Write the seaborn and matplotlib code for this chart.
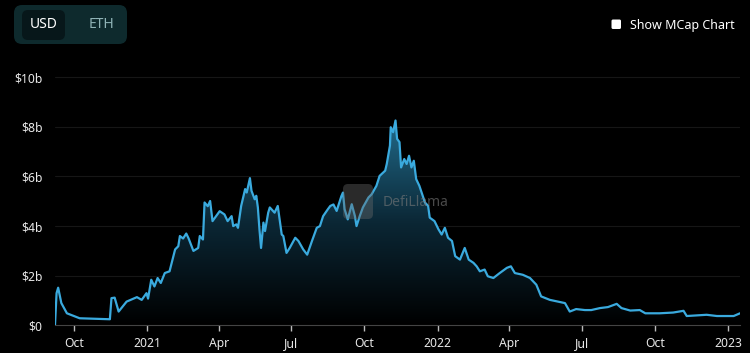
import matplotlib
matplotlib.use('Agg')
import matplotlib.pyplot as plt
import matplotlib.dates as mdates
import numpy as np
import pandas as pd
import seaborn as sns
from matplotlib.colors import LinearSegmentedColormap
from matplotlib.patches import FancyBboxPatch


# TVL in billions of USD
DATES = ['2020-09-07', '2020-09-09', '2020-09-11', '2020-09-15', '2020-09-22', '2020-10-08',
         '2020-10-27', '2020-11-15', '2020-11-17', '2020-11-21', '2020-11-26', '2020-12-06',
         '2020-12-19', '2020-12-25', '2020-12-31', '2021-01-02', '2021-01-06', '2021-01-10',
         '2021-01-14', '2021-01-18', '2021-01-23', '2021-01-29', '2021-02-05', '2021-02-09',
         '2021-02-11', '2021-02-15', '2021-02-19', '2021-02-22', '2021-02-28', '2021-03-06',
         '2021-03-08', '2021-03-12', '2021-03-14', '2021-03-18', '2021-03-21', '2021-03-24',
         '2021-04-02', '2021-04-08', '2021-04-12', '2021-04-17', '2021-04-19', '2021-04-23',
         '2021-04-25', '2021-04-29', '2021-05-04', '2021-05-06', '2021-05-10', '2021-05-12',
         '2021-05-16', '2021-05-18', '2021-05-20', '2021-05-22', '2021-05-24', '2021-05-27',
         '2021-05-29', '2021-06-02', '2021-06-04', '2021-06-10', '2021-06-14', '2021-06-19',
         '2021-06-21', '2021-06-25', '2021-06-29', '2021-07-06', '2021-07-10', '2021-07-16',
         '2021-07-21', '2021-07-27', '2021-08-02', '2021-08-06', '2021-08-10', '2021-08-16',
         '2021-08-19', '2021-08-23', '2021-08-27', '2021-09-02', '2021-09-04', '2021-09-06',
         '2021-09-10', '2021-09-15', '2021-09-19', '2021-09-21', '2021-09-25', '2021-09-29',
         '2021-10-06', '2021-10-10', '2021-10-16', '2021-10-20', '2021-10-27', '2021-10-29',
         '2021-11-02', '2021-11-03', '2021-11-06', '2021-11-09', '2021-11-11', '2021-11-14',
         '2021-11-16', '2021-11-20', '2021-11-23', '2021-11-26', '2021-11-29', '2021-12-02',
         '2021-12-05', '2021-12-09', '2021-12-16', '2021-12-20', '2021-12-22', '2021-12-28',
         '2022-01-02', '2022-01-06', '2022-01-10', '2022-01-14', '2022-01-19', '2022-01-23',
         '2022-01-29', '2022-02-04', '2022-02-09', '2022-02-15', '2022-02-19', '2022-02-23',
         '2022-03-01', '2022-03-05', '2022-03-12', '2022-03-20', '2022-03-29', '2022-04-03',
         '2022-04-08', '2022-04-18', '2022-04-27', '2022-05-05', '2022-05-11', '2022-05-22',
         '2022-06-01', '2022-06-10', '2022-06-16', '2022-06-24', '2022-07-05', '2022-07-13',
         '2022-07-24', '2022-08-03', '2022-08-14', '2022-08-20', '2022-08-31', '2022-09-12',
         '2022-09-19', '2022-10-07', '2022-10-24', '2022-11-06', '2022-11-10', '2022-12-05',
         '2022-12-18', '2023-01-08', '2023-01-16']
TVL = [0.0, 1.3, 1.52, 0.9, 0.49, 0.29,
       0.27, 0.25, 1.1, 1.12, 0.56, 0.96,
       1.14, 1.03, 1.3, 1.08, 1.84, 1.57,
       1.91, 1.71, 2.11, 2.18, 3.06, 3.19,
       3.6, 3.5, 3.7, 3.5, 3.0, 3.12,
       3.6, 3.46, 4.95, 4.8, 5.01, 4.2,
       4.6, 4.47, 4.2, 4.4, 4.0, 4.07,
       3.93, 4.81, 5.49, 5.35, 5.93, 5.42,
       5.08, 5.22, 4.75, 3.87, 3.12, 4.14,
       3.8, 4.54, 4.75, 4.54, 4.81, 3.66,
       3.6, 2.92, 3.12, 3.53, 3.4, 3.06,
       2.85, 3.4, 3.93, 4.0, 4.4, 4.68,
       4.81, 4.87, 4.61, 5.21, 5.35, 4.68,
       4.27, 4.88, 4.4, 4.0, 4.4, 4.75,
       5.15, 5.28, 5.62, 6.02, 6.23, 6.5,
       7.24, 7.98, 7.78, 8.25, 7.51, 7.38,
       6.36, 6.7, 6.5, 6.83, 6.36, 6.63,
       5.89, 5.62, 4.95, 4.81, 4.34, 4.2,
       3.87, 3.66, 3.93, 3.53, 3.4, 2.79,
       2.65, 3.12, 2.65, 2.52, 2.38, 2.18,
       2.25, 1.98, 1.91, 2.11, 2.32, 2.38,
       2.11, 2.04, 1.91, 1.64, 1.17, 1.03,
       0.96, 0.9, 0.56, 0.66, 0.62, 0.62,
       0.70, 0.74, 0.87, 0.70, 0.6, 0.62,
       0.49, 0.49, 0.52, 0.59, 0.38, 0.43,
       0.38, 0.38, 0.49]

Y_TICKS = [0, 2, 4, 6, 8, 10]
Y_LABELS = ['$0', '$2b', '$4b', '$6b', '$8b', '$10b']
X_TICKS = ['2020-10-01', '2021-01-01', '2021-04-01', '2021-07-01', '2021-10-01',
           '2022-01-01', '2022-04-01', '2022-07-01', '2022-10-01', '2023-01-01']
X_LABELS = ['Oct', '2021', 'Apr', 'Jul', 'Oct', '2022', 'Apr', 'Jul', 'Oct', '2023']

LINE_COLOR = '#3aaade'
TEXT_COLOR = '#e8e8e8'

sns.set_style('dark', {'axes.facecolor': '#000000', 'figure.facecolor': '#000000'})
plt.rcParams['font.family'] = ['Noto Sans', 'DejaVu Sans']

df = pd.DataFrame({'date': pd.to_datetime(DATES), 'tvl': TVL})

fig = plt.figure(figsize=(7.5, 3.53), dpi=100)
ax = fig.add_axes([0.0733, 0.078, 0.9134, 0.739])

# gradient fill under the line
poly = ax.fill_between(df['date'], df['tvl'], 0, color='none', lw=0)
x0 = mdates.date2num(df['date'].iloc[0])
x1 = mdates.date2num(df['date'].iloc[-1])
cmap = LinearSegmentedColormap.from_list('fade', ['#000000', '#0b2735', '#216a8a'])
grad = np.linspace(0, 1, 256).reshape(-1, 1)
im = ax.imshow(grad, cmap=cmap, origin='lower', aspect='auto',
               extent=[x0, x1, 0, max(TVL)], zorder=1)
im.set_clip_path(poly.get_paths()[0], transform=ax.transData)

sns.lineplot(data=df, x='date', y='tvl', ax=ax, color=LINE_COLOR, lw=1.6, zorder=3)

ax.set_xlim(df['date'].iloc[0], df['date'].iloc[-1])
ax.set_ylim(0, 10.5)
ax.set_yticks(Y_TICKS)
ax.set_yticklabels(Y_LABELS)
ax.set_xticks(pd.to_datetime(X_TICKS))
ax.set_xticklabels(X_LABELS)
for lab in ax.get_xticklabels():
    if lab.get_text().isdigit():
        lab.set_fontweight('bold')

ax.set_xlabel('')
ax.set_ylabel('')
ax.tick_params(axis='y', length=0, pad=9, labelsize=8.8, labelcolor=TEXT_COLOR)
ax.tick_params(axis='x', length=4, width=1, color='#bbbbbb', direction='out', pad=4,
               labelsize=8.8, labelcolor=TEXT_COLOR, bottom=True)
ax.grid(axis='y', color='#161616', lw=0.8)
ax.grid(axis='x', visible=False)
for side in ['top', 'right', 'left']:
    ax.spines[side].set_visible(False)
ax.spines['bottom'].set_color('#444444')
ax.spines['bottom'].set_linewidth(0.8)

# watermark
inch = fig.dpi_scale_trans
fig.patches.append(FancyBboxPatch((3.43, 1.34), 0.30, 0.35,
                                  boxstyle='round,pad=0,rounding_size=0.05',
                                  transform=inch, fc='#6a6a6a', ec='none', alpha=0.4, zorder=5))
fig.text(3.83, 1.50, 'DefiLlama', transform=inch, color='#7a7a7a', alpha=0.6,
         fontsize=10, fontweight='bold', va='center', ha='left', zorder=6)

# currency toggle
fig.patches.append(FancyBboxPatch((0.14, 3.09), 1.13, 0.39,
                                  boxstyle='round,pad=0,rounding_size=0.08',
                                  transform=inch, fc='#0e2a2d', ec='none'))
fig.patches.append(FancyBboxPatch((0.22, 3.13), 0.43, 0.30,
                                  boxstyle='round,pad=0,rounding_size=0.06',
                                  transform=inch, fc='#07171a', ec='none'))
fig.text(0.435, 3.28, 'USD', transform=inch, color='#ffffff', fontsize=10,
         fontweight='semibold', ha='center', va='center')
fig.text(1.02, 3.28, 'ETH', transform=inch, color='#8fb3b6', fontsize=10,
         ha='center', va='center')

# checkbox
fig.patches.append(FancyBboxPatch((6.115, 3.24), 0.095, 0.095,
                                  boxstyle='round,pad=0,rounding_size=0.015',
                                  transform=inch, fc='#ffffff', ec='none'))
fig.text(6.30, 3.28, 'Show MCap Chart', transform=inch, color='#ffffff', fontsize=9,
         ha='left', va='center')

fig.savefig('out.png', dpi=100, facecolor='#000000')
